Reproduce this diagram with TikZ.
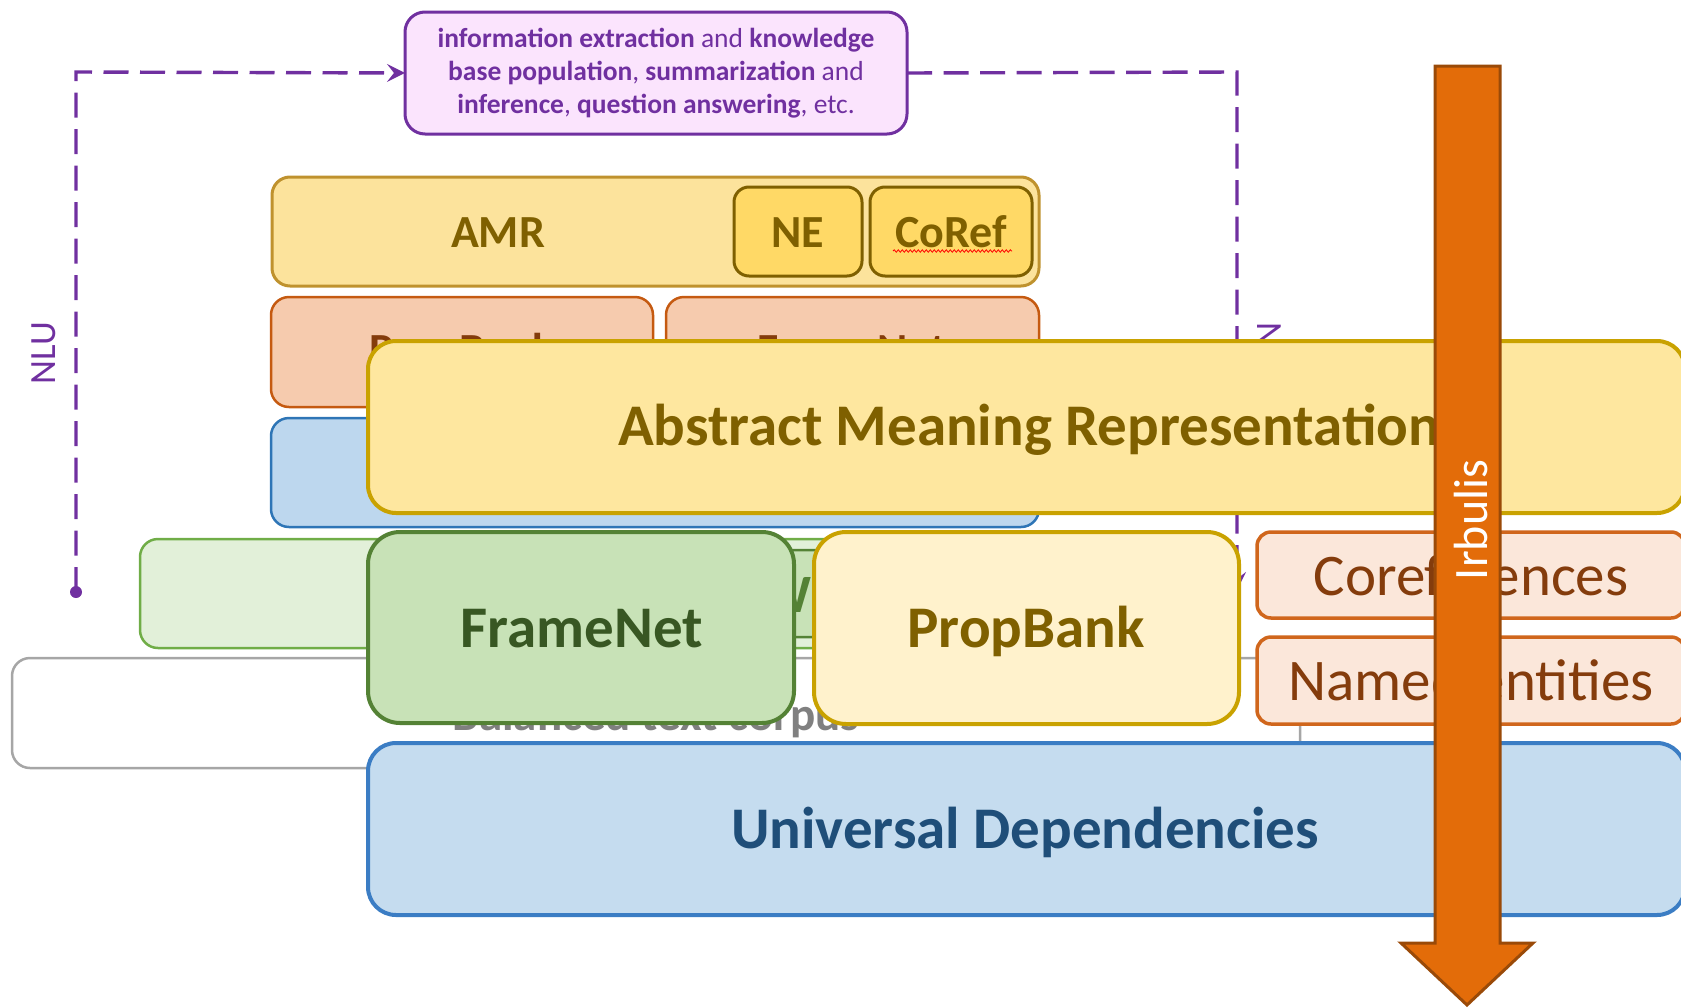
\documentclass[tikz,border=0pt]{standalone}
\usepackage{fontspec}
\setmainfont{Carlito}
\usetikzlibrary{arrows.meta,decorations.pathmorphing}
\definecolor{purp}{HTML}{7030A0}
\definecolor{purpfill}{HTML}{FBE4FD}
\definecolor{goldfill}{HTML}{FCE39C}
\definecolor{golddraw}{HTML}{BF922E}
\definecolor{nefill}{HTML}{FFD966}
\definecolor{olive}{HTML}{7F6000}
\definecolor{salfill}{HTML}{F6CBAE}
\definecolor{saldraw}{HTML}{C55A11}
\definecolor{brownt}{HTML}{843C0C}
\definecolor{bluefill}{HTML}{BDD7EE}
\definecolor{bluedraw}{HTML}{2E75B6}
\definecolor{bigamrfill}{HTML}{FEE79F}
\definecolor{bigamrdraw}{HTML}{C9A200}
\definecolor{lgfill}{HTML}{E2F0D9}
\definecolor{lgdraw}{HTML}{70AD47}
\definecolor{mgfill}{HTML}{C8E2B7}
\definecolor{dgdraw}{HTML}{548235}
\definecolor{dgtext}{HTML}{385723}
\definecolor{pbfill}{HTML}{FFF2CC}
\definecolor{cofill}{HTML}{FBE7DA}
\definecolor{codraw}{HTML}{D0661C}
\definecolor{udfill}{HTML}{C5DCEF}
\definecolor{uddraw}{HTML}{3B7DC4}
\definecolor{udtext}{HTML}{1F4E79}
\definecolor{grayline}{HTML}{A6A6A6}
\definecolor{graytext}{HTML}{808080}
\definecolor{orangefill}{HTML}{E36C09}
\definecolor{orangedraw}{HTML}{9A4A08}
\begin{document}
\begin{tikzpicture}[x=1pt,y=-1pt,
  bx/.style={draw, rounded corners=#1, anchor=north west, inner sep=0pt, outer sep=0pt},
  lbl/.style={anchor=base, inner sep=0pt, outer sep=0pt},
  bigfont/.style={font=\fontsize{59}{70}\selectfont\bfseries},
  midfont/.style={font=\fontsize{46}{55}\selectfont\bfseries},
  dsh/.style={draw=purp, line width=3.4pt, dash pattern=on 25pt off 11.5pt},
  tipp/.style={-{Stealth[length=18pt,width=18pt,inset=7pt]}},
]
\useasboundingbox (0,0) rectangle (1681,1007);

% ---------- purple task box and dashed connectors ----------
\node[bx=20pt, fill=purpfill, draw=purp, line width=3pt, minimum width=502pt, minimum height=122pt,
      align=center, text=purp, font=\fontsize{27.5}{33}\selectfont] (info) at (405,12)
  {\textbf{information extraction} and \textbf{knowledge}\\
   \textbf{base population}, \textbf{summarization} and\\
   \textbf{inference}, \textbf{question answering}, etc.};
\coordinate (dotL) at (76,592);
\coordinate (cL) at (76,72);
\coordinate (cR) at (1237,72);
\coordinate (endR) at (1237,590);
\draw[dsh, tipp] (dotL) -- (cL) -- (info.west);
\fill[purp] (dotL) circle (6);
\draw[dsh, tipp] (info.east) -- (cR) -- (endR);
\node[rotate=90, lbl, text=purp, font=\fontsize{37}{40}\selectfont] (nlu) at (55,353) {NLU};
\node[rotate=-90, anchor=base west, inner sep=0pt, text=purp, font=\fontsize{37}{40}\selectfont] (nlg) at (1257,322) {NLG};

% ---------- back layers ----------
\node[bx=18pt, fill=white, draw=grayline, line width=2.5pt, minimum width=1288pt, minimum height=110pt] (corpus) at (12,658) {};
\node[lbl, text=graytext, font=\fontsize{47}{55}\selectfont\bfseries] (corpust) at (656,730) {Balanced text corpus};

\node[bx=18pt, fill=lgfill, draw=lgdraw, line width=2.5pt, minimum width=899pt, minimum height=109pt] (vn) at (140,539) {};
\node[bx=15pt, fill=mgfill, draw=dgdraw, line width=2.5pt, minimum width=470pt, minimum height=87pt] (wn) at (560,550) {};
\node[anchor=base east, inner sep=0pt, text=dgdraw, font=\fontsize{54}{60}\selectfont\bfseries] (wnt) at (812,612) {W};

\node[bx=18pt, fill=bluefill, draw=bluedraw, line width=2.5pt, minimum width=768pt, minimum height=109pt] (udsmall) at (271,418) {};

\node[bx=18pt, fill=salfill, draw=saldraw, line width=2.5pt, minimum width=382pt, minimum height=110pt] (pbsmall) at (271,297) {};
\node[lbl, midfont, text=brownt] (pbsmallt) at (462,365) {PropBank};
\node[bx=18pt, fill=salfill, draw=saldraw, line width=2.5pt, minimum width=373pt, minimum height=110pt] (fnsmall) at (666,297) {};
\node[lbl, midfont, text=brownt] (fnsmallt) at (852,365) {FrameNet};

\node[bx=18pt, fill=goldfill, draw=golddraw, line width=3pt, minimum width=767pt, minimum height=109pt] (amrtop) at (272,177) {};
\node[lbl, midfont, text=olive] (amrtopt) at (498,247.5) {AMR};
\node[bx=15pt, fill=nefill, draw=olive, line width=3pt, minimum width=128pt, minimum height=89pt] (ne) at (734,187) {};
\node[lbl, midfont, text=olive] (net) at (798,247.5) {NE};
\node[bx=15pt, fill=nefill, draw=olive, line width=3pt, minimum width=162pt, minimum height=89pt] (coref) at (870,187) {};
\node[lbl, midfont, text=olive] (coreft) at (951,247.5) {CoRef};
\coordinate (sqA) at (893,251);
\coordinate (sqB) at (1012,251);
\draw[red, line width=0.8pt, decorate, decoration={snake, amplitude=1.2pt, segment length=4pt}] (sqA) -- (sqB);

% ---------- front layers ----------
\node[bx=28pt, fill=bigamrfill, draw=bigamrdraw, line width=4pt, minimum width=1317pt, minimum height=172pt] (amr) at (368,341) {};
\node[anchor=base west, inner sep=0pt, bigfont, text=olive] (amrt) at (618,445.6) {Abstract Meaning Representation};

\node[bx=32pt, fill=mgfill, draw=dgdraw, line width=4pt, minimum width=426pt, minimum height=191pt] (fn) at (368,532) {};
\node[lbl, bigfont, text=dgtext] (fnt) at (582,647) {FrameNet};
\node[bx=32pt, fill=pbfill, draw=bigamrdraw, line width=4pt, minimum width=425pt, minimum height=192pt] (pb) at (814,532) {};
\node[lbl, bigfont, text=olive] (pbt) at (1026,647) {PropBank};

\node[bx=14pt, fill=cofill, draw=codraw, line width=3.5pt, minimum width=428pt, minimum height=86pt] (cor) at (1257,532) {};
\node[lbl, text=brownt, font=\fontsize{59}{70}\selectfont] (cort) at (1471,595) {Coreferences};
\node[bx=14pt, fill=cofill, draw=codraw, line width=3.5pt, minimum width=428pt, minimum height=87pt] (nent) at (1257,637) {};
\node[lbl, text=brownt, font=\fontsize{59}{70}\selectfont] (nentt) at (1471,700) {Named entities};

\node[bx=28pt, fill=udfill, draw=uddraw, line width=4pt, minimum width=1317pt, minimum height=172pt] (ud) at (368,743) {};
\node[lbl, bigfont, text=udtext] (udt) at (1025,848) {Universal Dependencies};

% ---------- orange arrow ----------
\draw[fill=orangefill, draw=orangedraw, line width=3pt]
  (1435,66) -- (1500,66) -- (1500,943) -- (1533,943) -- (1467,1005) -- (1401,943) -- (1435,943) -- cycle;
\node[rotate=90, lbl, text=white, font=\fontsize{48}{55}\selectfont] (irb) at (1487,520) {Irbulis};
\end{tikzpicture}
\end{document}
